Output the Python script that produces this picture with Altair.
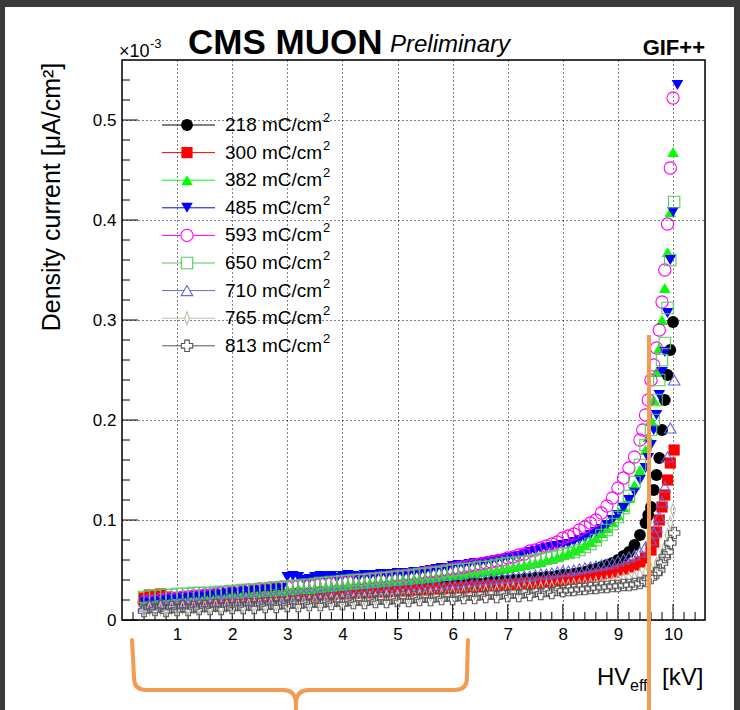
import altair as alt
import pandas as pd

# Effective HV scan points (kV) shared by all series up to 8 kV
HV_GRID = [0.4, 0.5, 0.6, 0.7, 0.8, 0.9, 1.0, 1.1, 1.2, 1.3,
           1.4, 1.5, 1.6, 1.7, 1.8, 1.9, 2.0, 2.1, 2.2, 2.3,
           2.4, 2.5, 2.6, 2.7, 2.8, 2.9, 3.0, 3.1, 3.2, 3.3,
           3.4, 3.5, 3.6, 3.7, 3.8, 3.9, 4.0, 4.1, 4.2, 4.3,
           4.4, 4.5, 4.6, 4.7, 4.8, 4.9, 5.0, 5.1, 5.2, 5.3,
           5.4, 5.5, 5.6, 5.7, 5.8, 5.9, 6.0, 6.1, 6.2, 6.3,
           6.4, 6.5, 6.6, 6.7, 6.8, 6.9, 7.0, 7.1, 7.2, 7.3,
           7.4, 7.5, 7.6, 7.7, 7.8, 7.9, 8.0]
# Shared points of the knee region
HV_MID = [8.1, 8.2, 8.3, 8.4, 8.5, 8.6, 8.7, 8.8, 8.9, 9.0, 9.1, 9.2, 9.3, 9.4, 9.5]

CHARGES = ["218", "300", "382", "485", "593", "650", "710", "765", "813"]

# Density current (x1e-3 uA/cm2) on HV_GRID
J_LOW = {
    "218": [0.018, 0.019, 0.018, 0.020, 0.019, 0.020, 0.021, 0.020, 0.021, 0.021,
            0.022, 0.021, 0.022, 0.023, 0.022, 0.023, 0.022, 0.023, 0.024, 0.023,
            0.024, 0.024, 0.025, 0.024, 0.025, 0.026, 0.025, 0.026, 0.027, 0.026,
            0.027, 0.026, 0.028, 0.027, 0.028, 0.029, 0.028, 0.029, 0.029, 0.030,
            0.030, 0.029, 0.031, 0.030, 0.031, 0.032, 0.031, 0.032, 0.033, 0.032,
            0.033, 0.034, 0.033, 0.034, 0.035, 0.034, 0.035, 0.036, 0.035, 0.036,
            0.037, 0.036, 0.037, 0.038, 0.038, 0.039, 0.039, 0.040, 0.040, 0.041,
            0.041, 0.042, 0.042, 0.043, 0.043, 0.044, 0.045],
    "300": [0.022, 0.025, 0.024, 0.026, 0.023, 0.021, 0.020, 0.021, 0.020, 0.020,
            0.021, 0.020, 0.021, 0.021, 0.022, 0.021, 0.022, 0.022, 0.021, 0.022,
            0.022, 0.023, 0.022, 0.023, 0.023, 0.024, 0.023, 0.024, 0.024, 0.025,
            0.025, 0.024, 0.025, 0.026, 0.025, 0.026, 0.027, 0.026, 0.027, 0.027,
            0.028, 0.027, 0.028, 0.029, 0.028, 0.029, 0.029, 0.030, 0.029, 0.030,
            0.031, 0.030, 0.031, 0.032, 0.031, 0.032, 0.032, 0.033, 0.032, 0.033,
            0.034, 0.033, 0.034, 0.035, 0.034, 0.035, 0.036, 0.035, 0.036, 0.037,
            0.036, 0.037, 0.038, 0.038, 0.039, 0.039, 0.040],
    "382": [0.018, 0.019, 0.019, 0.020, 0.020, 0.021, 0.021, 0.022, 0.022, 0.023,
            0.023, 0.024, 0.024, 0.025, 0.025, 0.026, 0.026, 0.026, 0.027, 0.027,
            0.027, 0.028, 0.028, 0.028, 0.029, 0.029, 0.030, 0.030, 0.031, 0.031,
            0.031, 0.032, 0.032, 0.033, 0.033, 0.034, 0.034, 0.035, 0.035, 0.036,
            0.036, 0.037, 0.037, 0.038, 0.038, 0.039, 0.039, 0.040, 0.040, 0.041,
            0.041, 0.042, 0.042, 0.043, 0.044, 0.044, 0.045, 0.045, 0.046, 0.047,
            0.047, 0.048, 0.049, 0.049, 0.050, 0.051, 0.052, 0.053, 0.054, 0.055,
            0.056, 0.057, 0.058, 0.060, 0.061, 0.063, 0.065],
    "485": [0.019, 0.020, 0.020, 0.021, 0.021, 0.022, 0.022, 0.023, 0.023, 0.024,
            0.024, 0.025, 0.025, 0.026, 0.026, 0.027, 0.028, 0.028, 0.029, 0.029,
            0.030, 0.030, 0.031, 0.031, 0.032, 0.032, 0.043, 0.044, 0.043, 0.040,
            0.041, 0.043, 0.044, 0.043, 0.044, 0.042, 0.044, 0.045, 0.044, 0.043,
            0.045, 0.044, 0.045, 0.046, 0.045, 0.046, 0.047, 0.046, 0.047, 0.048,
            0.048, 0.049, 0.050, 0.051, 0.052, 0.052, 0.054, 0.055, 0.055, 0.056,
            0.057, 0.057, 0.058, 0.059, 0.060, 0.061, 0.062, 0.063, 0.064, 0.066,
            0.068, 0.069, 0.071, 0.072, 0.073, 0.074, 0.075],
    "593": [0.018, 0.019, 0.019, 0.020, 0.021, 0.022, 0.022, 0.023, 0.023, 0.024,
            0.024, 0.025, 0.025, 0.026, 0.027, 0.028, 0.028, 0.029, 0.029, 0.030,
            0.030, 0.031, 0.031, 0.032, 0.032, 0.033, 0.033, 0.034, 0.034, 0.035,
            0.035, 0.036, 0.036, 0.037, 0.037, 0.038, 0.038, 0.039, 0.039, 0.040,
            0.040, 0.041, 0.041, 0.042, 0.042, 0.043, 0.044, 0.044, 0.045, 0.045,
            0.046, 0.047, 0.048, 0.048, 0.049, 0.050, 0.051, 0.052, 0.053, 0.054,
            0.055, 0.056, 0.057, 0.058, 0.059, 0.060, 0.062, 0.063, 0.065, 0.066,
            0.069, 0.070, 0.072, 0.074, 0.076, 0.078, 0.082],
    "650": [0.023, 0.024, 0.024, 0.025, 0.025, 0.025, 0.026, 0.026, 0.026, 0.027,
            0.027, 0.027, 0.027, 0.028, 0.028, 0.028, 0.029, 0.029, 0.030, 0.030,
            0.030, 0.031, 0.031, 0.032, 0.032, 0.033, 0.033, 0.034, 0.034, 0.035,
            0.035, 0.036, 0.037, 0.037, 0.038, 0.038, 0.039, 0.039, 0.040, 0.040,
            0.040, 0.041, 0.041, 0.042, 0.042, 0.043, 0.043, 0.044, 0.044, 0.045,
            0.046, 0.046, 0.047, 0.047, 0.048, 0.049, 0.050, 0.050, 0.051, 0.051,
            0.052, 0.053, 0.053, 0.054, 0.055, 0.056, 0.057, 0.057, 0.058, 0.058,
            0.059, 0.060, 0.061, 0.062, 0.063, 0.064, 0.066],
    "710": [0.014, 0.015, 0.015, 0.016, 0.015, 0.016, 0.017, 0.016, 0.017, 0.018,
            0.018, 0.017, 0.018, 0.019, 0.019, 0.020, 0.019, 0.020, 0.021, 0.020,
            0.021, 0.022, 0.021, 0.022, 0.023, 0.022, 0.023, 0.024, 0.024, 0.025,
            0.025, 0.026, 0.025, 0.026, 0.027, 0.027, 0.028, 0.027, 0.028, 0.029,
            0.029, 0.030, 0.030, 0.031, 0.031, 0.032, 0.032, 0.033, 0.033, 0.034,
            0.034, 0.035, 0.035, 0.036, 0.036, 0.037, 0.037, 0.038, 0.038, 0.039,
            0.039, 0.040, 0.040, 0.041, 0.041, 0.042, 0.042, 0.043, 0.043, 0.044,
            0.044, 0.045, 0.046, 0.046, 0.047, 0.048, 0.049],
    "765": [0.010, 0.011, 0.010, 0.011, 0.011, 0.012, 0.011, 0.012, 0.012, 0.013,
            0.012, 0.013, 0.013, 0.014, 0.013, 0.014, 0.014, 0.015, 0.014, 0.015,
            0.015, 0.016, 0.015, 0.016, 0.016, 0.017, 0.017, 0.018, 0.017, 0.018,
            0.018, 0.019, 0.018, 0.019, 0.020, 0.019, 0.020, 0.021, 0.020, 0.021,
            0.021, 0.022, 0.021, 0.022, 0.023, 0.022, 0.023, 0.024, 0.023, 0.024,
            0.024, 0.025, 0.025, 0.026, 0.025, 0.026, 0.027, 0.026, 0.027, 0.028,
            0.027, 0.028, 0.029, 0.028, 0.029, 0.030, 0.030, 0.031, 0.030, 0.031,
            0.032, 0.031, 0.032, 0.033, 0.033, 0.034, 0.034],
    "813": [0.009, 0.013, 0.010, 0.014, 0.009, 0.013, 0.010, 0.014, 0.010, 0.013,
            0.011, 0.014, 0.011, 0.015, 0.011, 0.015, 0.012, 0.015, 0.012, 0.016,
            0.012, 0.016, 0.013, 0.017, 0.013, 0.017, 0.014, 0.018, 0.014, 0.018,
            0.015, 0.019, 0.015, 0.019, 0.016, 0.020, 0.016, 0.020, 0.017, 0.021,
            0.017, 0.021, 0.018, 0.022, 0.018, 0.022, 0.019, 0.023, 0.019, 0.023,
            0.020, 0.024, 0.020, 0.024, 0.021, 0.025, 0.021, 0.025, 0.022, 0.026,
            0.022, 0.026, 0.023, 0.027, 0.023, 0.027, 0.024, 0.028, 0.024, 0.028,
            0.025, 0.029, 0.026, 0.029, 0.027, 0.030, 0.029],
}

# Density current on HV_MID
J_MID = {
    "218": [0.045, 0.046, 0.047, 0.048, 0.050, 0.051, 0.053, 0.055, 0.057, 0.060, 0.064, 0.068, 0.075, 0.085, 0.097],
    "300": [0.041, 0.042, 0.042, 0.043, 0.044, 0.045, 0.046, 0.047, 0.048, 0.050, 0.051, 0.053, 0.055, 0.058, 0.062],
    "382": [0.067, 0.070, 0.072, 0.075, 0.078, 0.082, 0.087, 0.092, 0.098, 0.105, 0.113, 0.122, 0.135, 0.150, 0.170],
    "485": [0.076, 0.078, 0.080, 0.082, 0.085, 0.088, 0.091, 0.095, 0.100, 0.105, 0.112, 0.120, 0.128, 0.140, 0.152],
    "593": [0.084, 0.086, 0.090, 0.093, 0.097, 0.100, 0.107, 0.114, 0.122, 0.132, 0.142, 0.152, 0.163, 0.180, 0.205],
    "650": [0.067, 0.068, 0.070, 0.073, 0.076, 0.080, 0.085, 0.090, 0.096, 0.103, 0.112, 0.124, 0.138, 0.155, 0.175],
    "710": [0.049, 0.050, 0.051, 0.052, 0.053, 0.054, 0.055, 0.056, 0.057, 0.059, 0.061, 0.063, 0.065, 0.068, 0.073],
    "765": [0.034, 0.035, 0.035, 0.036, 0.036, 0.037, 0.037, 0.038, 0.039, 0.040, 0.041, 0.042, 0.043, 0.045, 0.047],
    "813": [0.030, 0.030, 0.031, 0.031, 0.032, 0.032, 0.033, 0.033, 0.034, 0.034, 0.035, 0.035, 0.036, 0.037, 0.039],
}

# Fine scan close to the working point, per series
HV_END = {
    "218": [9.55, 9.6, 9.65, 9.7, 9.75, 9.8, 9.85, 9.9, 9.95, 10.0],
    "300": [9.6, 9.65, 9.7, 9.75, 9.8, 9.85, 9.9, 9.95, 10.02],
    "382": [9.55, 9.6, 9.65, 9.7, 9.75, 9.8, 9.85, 9.9, 9.95, 10.0],
    "485": [9.55, 9.6, 9.65, 9.7, 9.75, 9.8, 9.85, 9.9, 9.95, 10.0, 10.08],
    "593": [9.45, 9.55, 9.6, 9.65, 9.7, 9.75, 9.8, 9.85, 9.9, 9.95, 10.0],
    "650": [9.6, 9.65, 9.7, 9.75, 9.8, 9.85, 9.9, 9.95, 10.02],
    "710": [9.6, 9.65, 9.7, 9.75, 9.8, 9.85, 9.9, 9.95, 10.02],
    "765": [9.6, 9.7, 9.8, 9.85, 9.9, 9.95, 10.0],
    "813": [9.6, 9.7, 9.75, 9.8, 9.85, 9.9, 9.95, 10.02],
}
J_END = {
    "218": [0.105, 0.113, 0.130, 0.145, 0.162, 0.190, 0.220, 0.245, 0.270, 0.298],
    "300": [0.070, 0.078, 0.088, 0.100, 0.113, 0.125, 0.140, 0.157, 0.170],
    "382": [0.183, 0.200, 0.220, 0.248, 0.272, 0.300, 0.332, 0.368, 0.408, 0.468],
    "485": [0.162, 0.175, 0.190, 0.205, 0.225, 0.248, 0.268, 0.307, 0.360, 0.408, 0.535],
    "593": [0.190, 0.220, 0.240, 0.255, 0.272, 0.290, 0.318, 0.350, 0.396, 0.452, 0.522],
    "650": [0.190, 0.200, 0.220, 0.240, 0.260, 0.277, 0.312, 0.360, 0.418],
    "710": [0.080, 0.087, 0.093, 0.103, 0.118, 0.133, 0.163, 0.192, 0.240],
    "765": [0.050, 0.056, 0.065, 0.073, 0.085, 0.097, 0.110],
    "813": [0.042, 0.047, 0.050, 0.057, 0.063, 0.068, 0.077, 0.087],
}

COLORS = {"218": "#000000", "300": "#ff0000", "382": "#00ff00", "485": "#0000ff",
          "593": "#ff00ff", "650": "#55cc55", "710": "#6666dd", "765": "#c4bcae",
          "813": "#555555"}
THIN_DIAMOND = "M0,-1L0.38,0L0,1L-0.38,0Z"
SHAPES = {"218": "circle", "300": "square", "382": "triangle-up", "485": "triangle-down",
          "593": "circle", "650": "square", "710": "triangle-up", "765": THIN_DIAMOND,
          "813": "cross"}
FILLED = {"218": True, "300": True, "382": True, "485": True,
          "593": False, "650": False, "710": False, "765": False, "813": False}
SIZES = {"218": 140, "300": 125, "382": 135, "485": 135, "593": 150,
         "650": 130, "710": 135, "765": 170, "813": 130}

X_LABELS = [1, 2, 3, 4, 5, 6, 7, 8, 9, 10]
Y_LABELS = [0, 0.1, 0.2, 0.3, 0.4, 0.5]

FONT = "Liberation Sans"
ORANGE = "#F39B50"
W, H = 583, 560          # plot frame size in pixels
LEFT, TOP = 122, 60      # frame offset on the page

rows = []
for c in CHARGES:
    hv_all = HV_GRID + HV_MID + HV_END[c]
    j_all = J_LOW[c] + J_MID[c] + J_END[c]
    for hv, j in zip(hv_all, j_all):
        rows.append({"charge": c, "hv": hv, "j": j})
df = pd.DataFrame(rows)

xscale = alt.Scale(domain=[0, 10.58], nice=False, zero=False)
yscale = alt.Scale(domain=[0, 0.56], nice=False, zero=False)
xaxis = alt.Axis(values=X_LABELS, grid=True, gridDash=[1, 3], gridColor="black",
                 gridOpacity=1, gridWidth=1, ticks=False, domain=False,
                 labelFontSize=17, labelPadding=6, labelColor="black",
                 labelFont=FONT, format="d", title=None)
yaxis = alt.Axis(values=Y_LABELS, grid=True, gridDash=[1, 3], gridColor="black",
                 gridOpacity=1, gridWidth=1, ticks=False, domain=False,
                 labelFontSize=17, labelPadding=6, labelColor="black",
                 labelFont=FONT, format=".1~f", title=None)

base = alt.Chart(df).encode(
    x=alt.X("hv:Q", scale=xscale, axis=xaxis),
    y=alt.Y("j:Q", scale=yscale, axis=yaxis),
)

layers = []

# inward ticks on the two axes
x_major = pd.DataFrame({"t": X_LABELS})
x_minor = pd.DataFrame({"t": [round(0.2 * k, 1) for k in range(1, 53) if k % 5 != 0]})
y_major = pd.DataFrame({"t": Y_LABELS})
y_minor = pd.DataFrame({"t": [round(0.02 * k, 2) for k in range(1, 28) if k % 5 != 0]})
for d, ln in ((x_major, 16), (x_minor, 8)):
    layers.append(alt.Chart(d).mark_rule(color="black", strokeWidth=1).encode(
        x=alt.X("t:Q", scale=xscale, axis=xaxis), y=alt.value(H), y2=alt.value(H - ln)))
for d, ln in ((y_major, 16), (y_minor, 8)):
    layers.append(alt.Chart(d).mark_rule(color="black", strokeWidth=1).encode(
        y=alt.Y("t:Q", scale=yscale, axis=yaxis), x=alt.value(0), x2=alt.value(ln)))

# measured series
for c in CHARGES:
    layers.append(base.transform_filter(alt.datum.charge == c).mark_point(
        shape=SHAPES[c], size=SIZES[c], filled=FILLED[c], color=COLORS[c],
        opacity=1, strokeWidth=1.1))

# frame
one = pd.DataFrame({"k": [0]})
layers.append(alt.Chart(one).mark_rect(fillOpacity=0, stroke="black", strokeWidth=1.5).encode(
    x=alt.value(0), x2=alt.value(W), y=alt.value(0), y2=alt.value(H)))

# legend
for i, c in enumerate(CHARGES):
    ly = 65 + 27.6 * i
    layers.append(alt.Chart(one).mark_rule(color=COLORS[c], strokeWidth=1).encode(
        x=alt.value(40), x2=alt.value(93), y=alt.value(ly)))
    layers.append(alt.Chart(one).mark_point(
        shape=SHAPES[c], size=SIZES[c], filled=FILLED[c], color=COLORS[c],
        opacity=1, strokeWidth=1.1, fill=("white" if not FILLED[c] else COLORS[c])).encode(
        x=alt.value(65), y=alt.value(ly)))
    layers.append(alt.Chart(one).mark_text(
        text=f"{c} mC/cm", align="left", baseline="middle", font=FONT,
        fontSize=19, color="black").encode(x=alt.value(103), y=alt.value(ly)))
    layers.append(alt.Chart(one).mark_text(
        text="2", align="left", baseline="middle", font=FONT,
        fontSize=13, color="black").encode(x=alt.value(201), y=alt.value(ly - 7)))


def label(text, x, y, size, **kw):
    return alt.Chart(one).mark_text(text=text, font=FONT, fontSize=size, color="black",
                                    **kw).encode(x=alt.value(x), y=alt.value(y))


layers += [
    label("CMS MUON", 66, -6, 35, align="left", baseline="alphabetic", fontWeight="bold"),
    label("Preliminary", 268, -8, 24, align="left", baseline="alphabetic", fontStyle="italic"),
    label("GIF++", W, -5, 22, align="right", baseline="alphabetic", fontWeight="bold"),
    label("×10", -3, -3, 18, align="left", baseline="alphabetic"),
    label("-3", 28, -12, 13, align="left", baseline="alphabetic"),
    label("Density current [μA/cm²]", -70, 137, 25, align="center", baseline="middle", angle=270),
    label("HV", 475, 625, 24, align="left", baseline="alphabetic"),
    label("eff", 508, 631, 16, align="left", baseline="alphabetic"),
    label("[kV]", 540, 625, 24, align="left", baseline="alphabetic"),
]

# orange annotations: brace under the low-voltage range and marker line
BRACE = ("M-0.988,-0.206L-0.976,0.018Q-0.976,0.088,-0.906,0.088L-0.1,0.088"
         "Q-0.029,0.088,-0.024,0.159L-0.024,0.235"
         "M-0.024,0.159Q-0.018,0.088,0.053,0.088L0.912,0.088"
         "Q0.982,0.088,0.982,0.018L0.988,-0.206")
layers.append(alt.Chart(one).mark_point(shape=BRACE, size=340 ** 2, filled=False,
                                        color=ORANGE, strokeWidth=4, opacity=1,
                                        strokeCap="round", strokeJoin="round").encode(
    x=alt.value(300 - LEFT), y=alt.value(675 - TOP)))
layers.append(alt.Chart(one).mark_rule(color=ORANGE, strokeWidth=4).encode(
    x=alt.value(649 - LEFT), y=alt.value(335 - TOP), y2=alt.value(720 - TOP)))

# dark window border
DARK = "#3a3a3a"
for x0, x1, y0, y1 in ((0, 740, 0, 7), (0, 5, 0, 710), (734, 740, 0, 710)):
    layers.append(alt.Chart(one).mark_rect(color=DARK, opacity=1).encode(
        x=alt.value(x0 - LEFT), x2=alt.value(x1 - LEFT),
        y=alt.value(y0 - TOP), y2=alt.value(y1 - TOP)))

chart = alt.layer(*layers).properties(
    width=W, height=H,
    padding={"left": LEFT, "top": TOP, "right": 740 - LEFT - W, "bottom": 710 - TOP - H},
    autosize=alt.AutoSizeParams(type="none"),
).configure_view(stroke=None).configure(background="white")

chart.save("out.html", embed_options={"renderer": "svg", "actions": False})
